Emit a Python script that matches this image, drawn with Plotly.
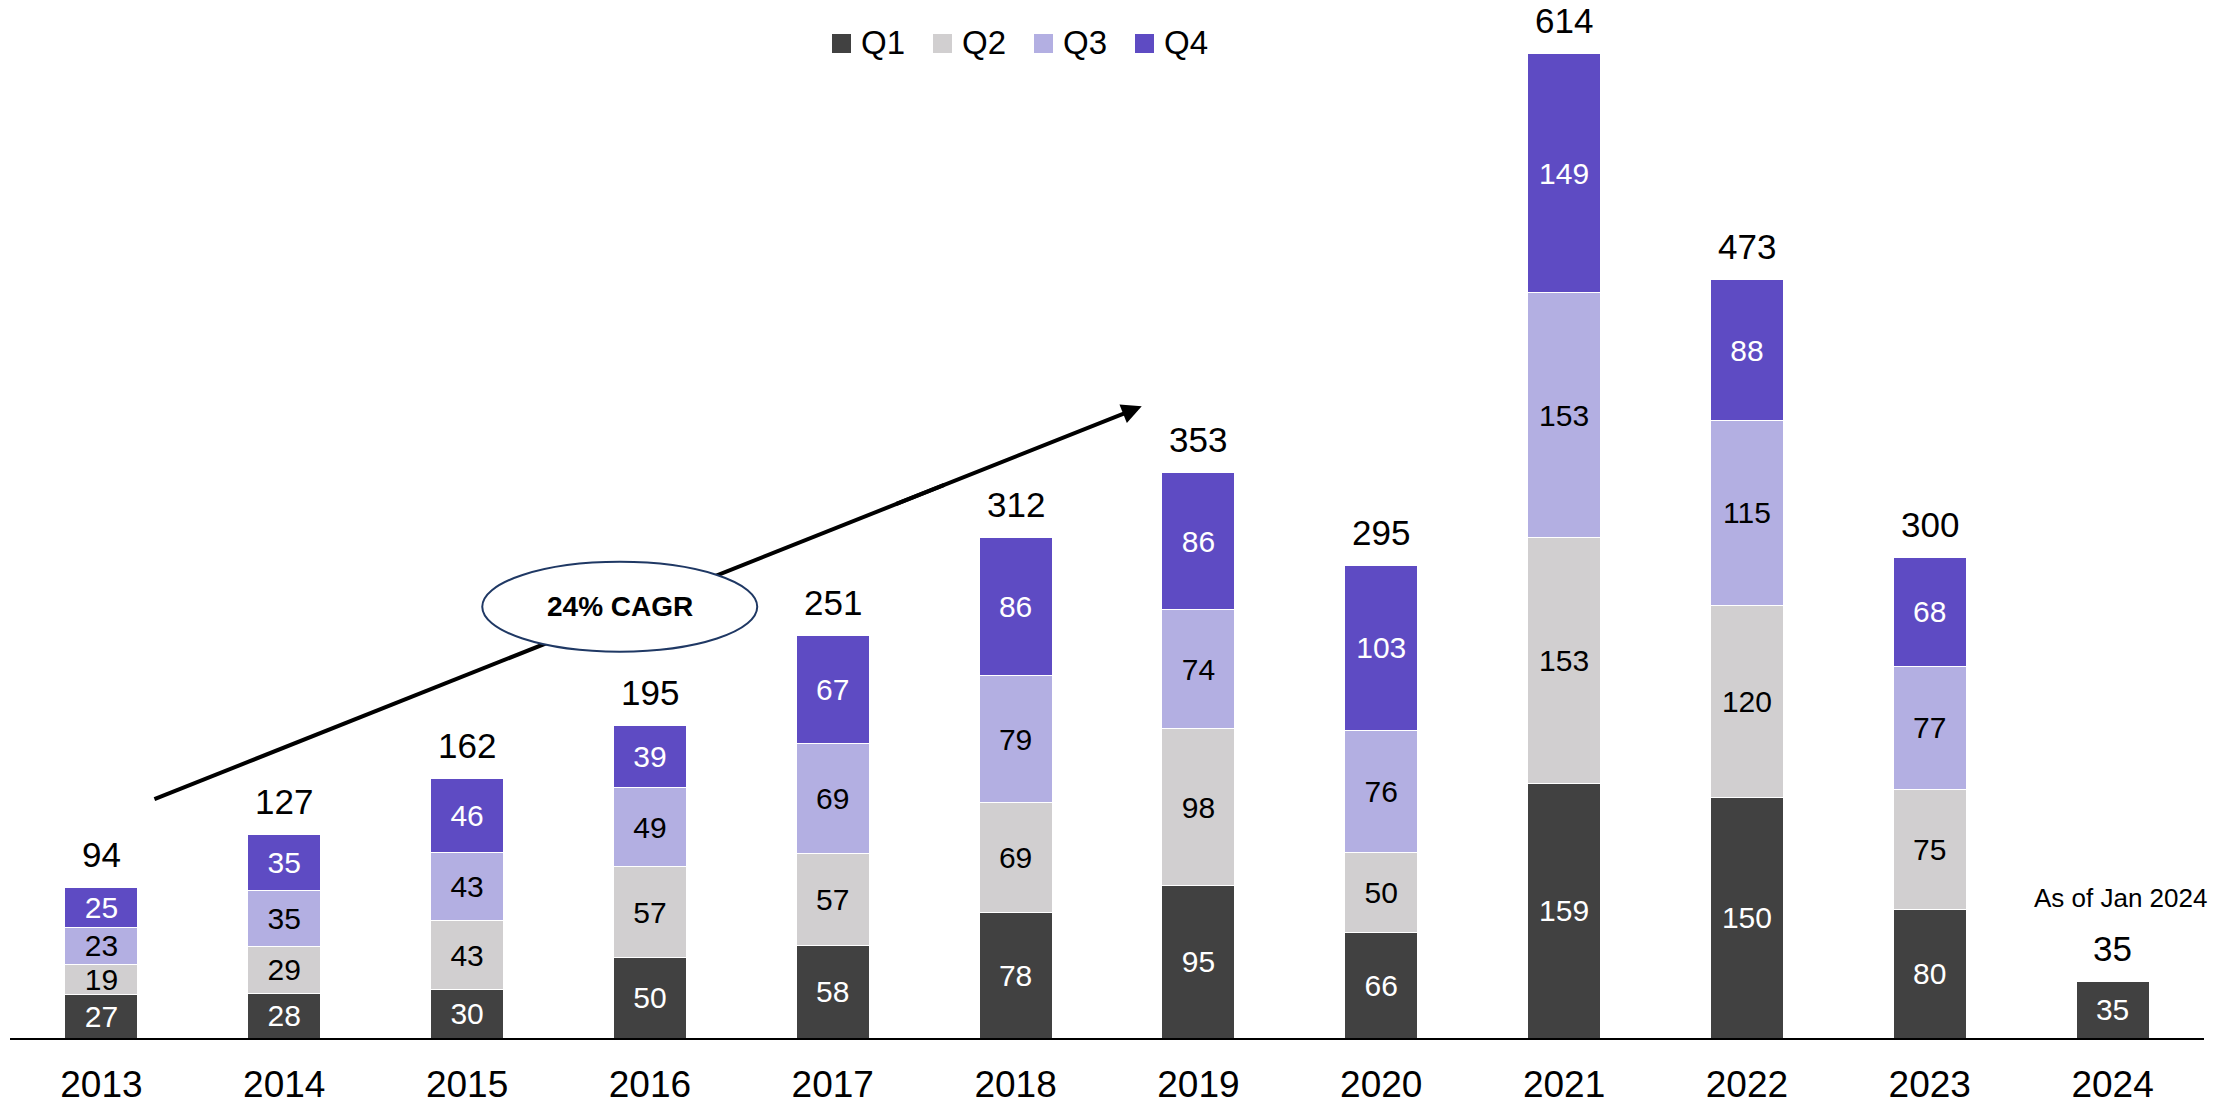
import plotly.graph_objects as go

years = ["2013", "2014", "2015", "2016", "2017", "2018", "2019", "2020", "2021", "2022", "2023", "2024"]
q1 = [27, 28, 30, 50, 58, 78, 95, 66, 159, 150, 80, 35]
q2 = [19, 29, 43, 57, 57, 69, 98, 50, 153, 120, 75, None]
q3 = [23, 35, 43, 49, 69, 79, 74, 76, 153, 115, 77, None]
q4 = [25, 35, 46, 39, 67, 86, 86, 103, 149, 88, 68, None]
totals = [94, 127, 162, 195, 251, 312, 353, 295, 614, 473, 300, 35]
series_names = ["Q1", "Q2", "Q3", "Q4"]

series_values = [q1, q2, q3, q4]
colors = ["#414141", "#D1CFD0", "#B3AFE2", "#5E4BC3"]
text_colors = ["white", "black", "black", "white"]

FONT = "Arial, Liberation Sans, sans-serif"

# plot area geometry (page px): left 10, right 2204, top 20, bottom 1038
PL, PR, PT, PB = 10, 2204, 20, 1038


def px_to_paper_x(px):
    return (px - PL) / (PR - PL)


def py_to_paper_y(py):
    return (PB - py) / (PB - PT)


fig = go.Figure()
for name, vals, color, tcolor in zip(series_names, series_values, colors, text_colors):
    fig.add_trace(go.Bar(
        x=years, y=vals, name=name,
        marker=dict(color=color, line=dict(color="white", width=1)),
        text=[str(v) if v is not None else "" for v in vals],
        textposition="inside", insidetextanchor="middle",
        textfont=dict(size=30, color=tcolor, family=FONT),
        showlegend=False, width=0.4,
    ))

# totals above bars
for i, t in enumerate(totals):
    fig.add_annotation(x=i, y=t, xref="x", yref="y", text=str(t), showarrow=False,
                       yanchor="middle", yshift=33,
                       font=dict(size=35, color="black", family=FONT))

fig.add_annotation(x=len(years) - 1, y=totals[-1], xref="x", yref="y", text="As of Jan 2024",
                   showarrow=False, yanchor="middle", yshift=84, xshift=8,
                   font=dict(size=26, color="black", family=FONT))

# manual legend
leg_left = 832
leg_step = 101
for k, (name, color) in enumerate(zip(series_names, colors)):
    x0 = leg_left + k * leg_step
    fig.add_shape(type="rect", xref="paper", yref="paper",
                  x0=px_to_paper_x(x0), x1=px_to_paper_x(x0 + 19),
                  y0=py_to_paper_y(53), y1=py_to_paper_y(34),
                  fillcolor=color, line=dict(width=0))
    fig.add_annotation(xref="paper", yref="paper", x=px_to_paper_x(x0 + 27), y=py_to_paper_y(43),
                       text=name, showarrow=False, xanchor="left", yanchor="middle",
                       font=dict(size=33, color="black", family=FONT))

# CAGR arrow: line shape + arrowhead annotation
x_start, y_start = 0.29, 149
x_end, y_end = 5.69, 394
fig.add_shape(type="line", xref="x", yref="y", x0=x_start, y0=y_start,
              x1=x_start + (x_end - x_start) * 0.8, y1=y_start + (y_end - y_start) * 0.8,
              line=dict(color="black", width=4))
fig.add_annotation(x=x_end, y=y_end, ax=x_start + (x_end - x_start) * 0.75,
                   ay=y_start + (y_end - y_start) * 0.75, xref="x", yref="y",
                   axref="x", ayref="y", showarrow=True, arrowhead=2, arrowsize=1,
                   arrowwidth=4, arrowcolor="black", text="")
fig.add_shape(type="circle", xref="x", yref="y", x0=2.083, x1=3.587, y0=241, y1=297,
              line=dict(color="#1F3864", width=2), fillcolor="white", layer="above")
fig.add_annotation(x=2.835, y=269, xref="x", yref="y", text="<b>24% CAGR</b>", showarrow=False,
                   font=dict(size=28, color="black", family=FONT))

# page body has an 8px default margin: compensate so plot area lands at PL..PR, PT..PB
fig.update_layout(
    barmode="stack",
    width=2225, height=1102,
    margin=dict(l=PL - 8, r=2225 + 8 - PR, t=PT - 8, b=1102 + 8 - PB, autoexpand=False),
    plot_bgcolor="white", paper_bgcolor="white",
    font=dict(family=FONT, color="black"),
    showlegend=False,
    xaxis=dict(type="category", showgrid=False, showline=True, linecolor="black", linewidth=2,
               ticks="", tickfont=dict(size=37, family=FONT), ticklabelstandoff=13,
               range=[-0.5, 11.5], automargin=False),
    yaxis=dict(visible=False, range=[0, 635]),
    uniformtext=dict(minsize=30, mode="show"),
)

fig.write_html("out.html")
